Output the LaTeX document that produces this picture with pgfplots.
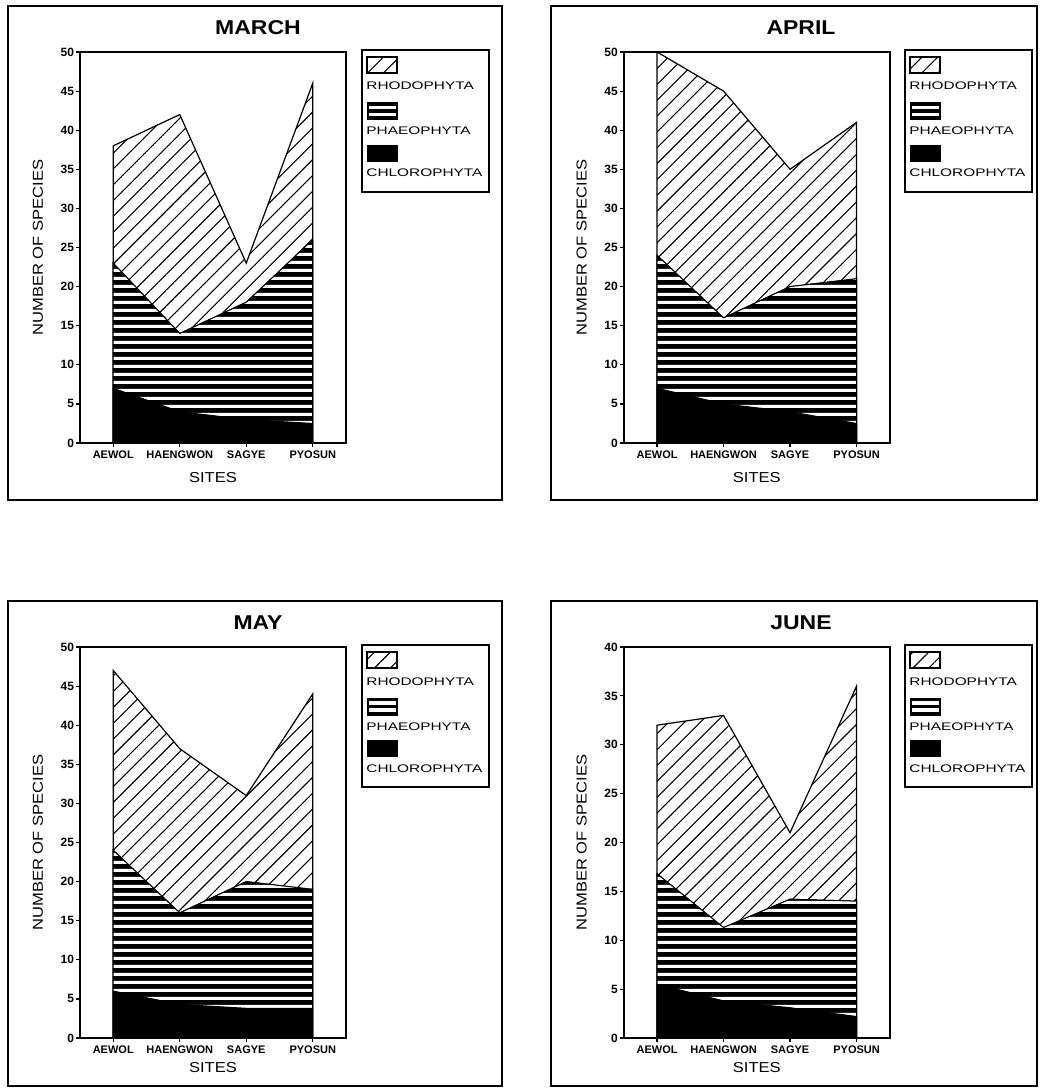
\documentclass[border=0pt]{standalone}
\usepackage{fontspec}
\setmainfont{Liberation Sans}
\newfontfamily\widefont[FakeStretch=1.15]{Liberation Sans}
\newfontfamily\widerfont[FakeStretch=1.4]{Liberation Sans}
\usepackage{pgfplots}
\pgfplotsset{compat=1.18}
\usetikzlibrary{patterns.meta}

\tikzdeclarepattern{
  name=rhodo, type=uncolored,
  bounding box={(0,-0.4pt) and (5.6pt,0.4pt)},
  tile size={(5.6pt,5.6pt)},
  tile transformation={rotate=45},
  code={\draw[line width=0.55pt] (0,0) -- (5.6pt,0);}
}
\tikzdeclarepattern{
  name=hlines, type=uncolored,
  bounding box={(0,0) and (700pt,4pt)},
  tile size={(700pt,4pt)},
  code={\fill (0,1.2pt) rectangle (700pt,2.8pt);}
}

\pgfplotsset{
  panel/.style={
    scale only axis, width=133pt, height=195.5pt, anchor=south west,
    xmin=-0.5, xmax=3.5, ymin=0,
    xtick={0,1,2,3}, xticklabels={AEWOL,HAENGWON,SAGYE,PYOSUN},
    xtick pos=bottom, ytick pos=left, tick align=outside,
    major tick length=2pt,
    axis line style={line width=0.9pt},
    every tick/.style={black, line width=0.6pt},
    /pgf/number format/assume math mode=true,
    xticklabel style={font=\bfseries\fontsize{5.5}{6}\selectfont, inner sep=1.5pt},
    yticklabel style={font=\bfseries\fontsize{6}{7}\selectfont, inner sep=0.8pt},
    xlabel={SITES}, ylabel={NUMBER OF SPECIES},
    label style={font=\widefont\fontsize{7.2}{8}\selectfont},
    ylabel style={at={(axis description cs:-0.158,0.5)}, anchor=center},
  },
  rh/.style={pattern=rhodo, draw=black, line width=0.6pt},
  ph/.style={fill=black, draw=black, line width=0.5pt, postaction={pattern=hlines, pattern color=white}},
  ch/.style={fill=black, draw=black, line width=0.5pt},
}

\newcommand{\panelframe}[5]{% dx, dy, title, frame right edge, frame bottom edge
  \draw[line width=0.9pt] (8+#1,6+#2) rectangle (#4,#5);
  \node[font=\widefont\bfseries\fontsize{10}{12}\selectfont] at (258+#1,28+#2) {#3};
  \draw[line width=0.7pt] (362+#1,50+#2) rectangle (489+#1,192+#2);
  \draw[line width=0.7pt, pattern=rhodo] (367+#1,57+#2) rectangle (397+#1,73+#2);
  \node[font=\widerfont\fontsize{5.5}{6}\selectfont, anchor=base west, inner sep=0pt] at (366+#1,90+#2) {RHODOPHYTA};
  \fill[black] (366.5+#1,102.5+#2) rectangle (397.5+#1,120.5+#2);
  \fill[white] (368.5+#1,106+#2) rectangle (395.5+#1,109.5+#2);
  \fill[white] (368.5+#1,113+#2) rectangle (395.5+#1,116.5+#2);
  \node[font=\widerfont\fontsize{5.5}{6}\selectfont, anchor=base west, inner sep=0pt] at (366+#1,135+#2) {PHAEOPHYTA};
  \fill[black] (366.5+#1,145+#2) rectangle (397.5+#1,162+#2);
  \node[font=\widerfont\fontsize{5.5}{6}\selectfont, anchor=base west, inner sep=0pt] at (366+#1,177+#2) {CHLOROPHYTA};
}

\begin{document}
\begin{tikzpicture}[x=0.5pt,y=-0.5pt]
\path (0,0) rectangle (1040,1090);

\panelframe{0}{0}{MARCH}{502}{500}
\panelframe{543}{0}{APRIL}{1037}{500}
\panelframe{0}{595}{MAY}{502}{1086}
\panelframe{543}{595}{JUNE}{1037}{1086}

% MARCH
\begin{axis}[panel, at={(40pt,-221.5pt)}, ymax=50, ytick={0,5,...,50},
  xlabel style={at={(axis description cs:0.5,-0.0895)}, anchor=center}]
\addplot[rh] coordinates {(0,38) (1,42) (2,23) (3,46)} \closedcycle;
\addplot[ph] coordinates {(0,23) (1,14) (2,18) (3,26)} \closedcycle;
\addplot[ch] coordinates {(0,7) (1,4) (2,3) (3,2.5)} \closedcycle;
\end{axis}

% APRIL
\begin{axis}[panel, at={(311.9pt,-221.5pt)}, ymax=50, ytick={0,5,...,50},
  xlabel style={at={(axis description cs:0.5,-0.0895)}, anchor=center}]
\addplot[rh] coordinates {(0,50) (1,45) (2,35) (3,41)} \closedcycle;
\addplot[ph] coordinates {(0,24) (1,16) (2,20) (3,21)} \closedcycle;
\addplot[ch] coordinates {(0,7) (1,5) (2,4) (3,2.5)} \closedcycle;
\end{axis}

% MAY
\begin{axis}[panel, at={(40pt,-519pt)}, ymax=50, ytick={0,5,...,50},
  xlabel style={at={(axis description cs:0.5,-0.0765)}, anchor=center}]
\addplot[rh] coordinates {(0,47) (1,37) (2,31) (3,44)} \closedcycle;
\addplot[ph] coordinates {(0,24) (1,16) (2,20) (3,19)} \closedcycle;
\addplot[ch] coordinates {(0,6) (1,4.3) (2,3.8) (3,3.8)} \closedcycle;
\end{axis}

% JUNE
\begin{axis}[panel, at={(311.9pt,-519pt)}, ymax=40, ytick={0,5,...,40},
  xlabel style={at={(axis description cs:0.5,-0.0765)}, anchor=center}]
\addplot[rh] coordinates {(0,32) (1,33) (2,21) (3,36)} \closedcycle;
\addplot[ph] coordinates {(0,16.8) (1,11.3) (2,14.2) (3,14)} \closedcycle;
\addplot[ch] coordinates {(0,5.5) (1,3.8) (2,3.1) (3,2.2)} \closedcycle;
\end{axis}
\end{tikzpicture}
\end{document}
